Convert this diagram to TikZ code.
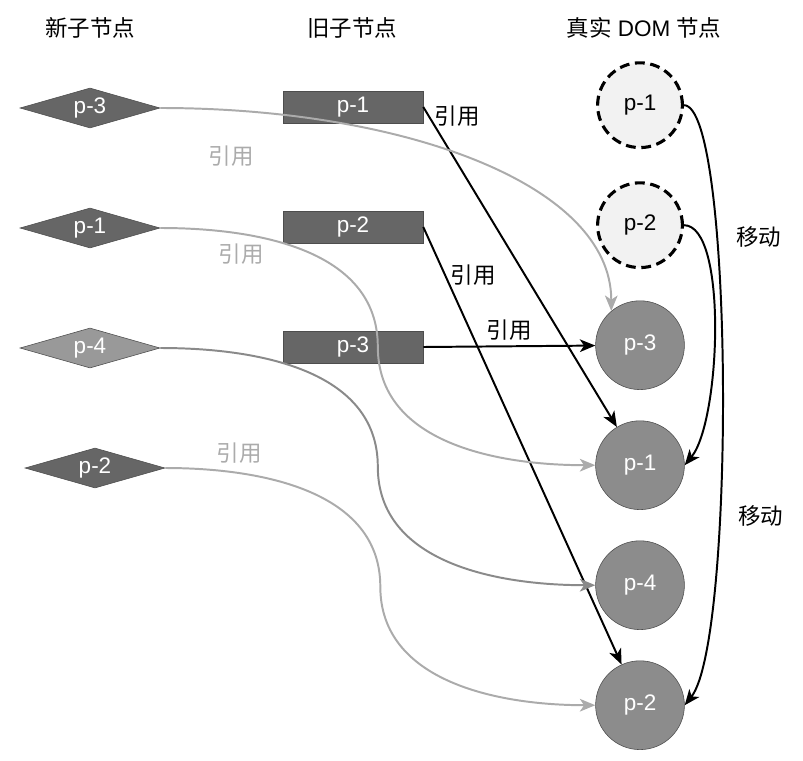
\documentclass[tikz,border=0pt]{standalone}
\usepackage{fontspec}
\setmainfont{Liberation Sans}
\newfontfamily\cjk{Noto Sans CJK SC}
\usepackage{tikz}
\usetikzlibrary{shapes.geometric, arrows.meta, calc}
\definecolor{darkfill}{HTML}{666666}
\definecolor{lightfill}{HTML}{999999}
\definecolor{domfill}{HTML}{8C8C8C}
\definecolor{edgegray}{HTML}{4D4D4D}
\definecolor{refgray}{HTML}{ABABAB}
\definecolor{refdark}{HTML}{8A8A8A}
\tikzstyle{newnode} = [diamond, aspect=3.5, minimum width=3.5cm, minimum height=1cm, inner sep=0pt, draw=edgegray, fill=darkfill, text=white, font=\fontsize{16}{18}\selectfont]
\tikzstyle{oldnode} = [rectangle, minimum width=3.5cm, minimum height=0.8cm, inner sep=0pt, draw=edgegray, fill=darkfill, text=white, font=\fontsize{16}{18}\selectfont]
\tikzstyle{domnode} = [circle, minimum size=2.22cm, inner sep=0pt, draw=edgegray, fill=domfill, text=white, font=\fontsize{16}{18}\selectfont]
\tikzstyle{ghost} = [circle, minimum size=2.12cm, inner sep=0pt, draw=black, line width=2.2pt, dash pattern=on 7pt off 4pt, fill=black!5, font=\fontsize{16}{18}\selectfont]
\tikzstyle{title} = [font=\fontsize{16}{18}\selectfont]
\tikzstyle{reflink} = [->, line width=1.4pt, black]
\tikzstyle{newlink} = [->, line width=1.4pt, refgray]
\tikzstyle{tag} = [font=\cjk\fontsize{16}{18}\selectfont]

\begin{document}
\begin{tikzpicture}[node distance=3cm, >={Stealth[length=11pt,width=9pt,inset=3pt]}]
        \useasboundingbox (0,0) rectangle (20.075,-19);

        \node[title] (newhead) at (2.25,-0.7) {\cjk 新子节点};
        \node[title] (oldhead) at (8.8,-0.7) {\cjk 旧子节点};
        \node[title] (domhead) at (16.1,-0.7) {{\cjk 真实} DOM {\cjk 节点}};

        % new children
        \node[newnode] (new3) at (2.25,-2.7) {p-3};
        \node[newnode, below of=new3] (new1) {p-1};
        \node[newnode, below of=new1, fill=lightfill] (new4) {p-4};
        \node[newnode, below of=new4, xshift=0.125cm] (new2) {p-2};

        % old children
        \node[oldnode] (old1) at (8.825,-2.675) {p-1};
        \node[oldnode, below of=old1] (old2) {p-2};
        \node[oldnode, below of=old2] (old3) {p-3};

        % real DOM
        \node[ghost] (ghost1) at (16,-2.63) {p-1};
        \node[ghost, below of=ghost1] (ghost2) {p-2};
        \node[domnode, below of=ghost2] (real3) {p-3};
        \node[domnode, below of=real3] (real1) {p-1};
        \node[domnode, below of=real1] (real4) {p-4};
        \node[domnode, below of=real4] (real2) {p-2};

        \draw [reflink] (old1.east) -- node[tag, pos=0.03, right]{引用} (real1);
        \draw [reflink] (old2.east) -- node[tag, pos=0.11, right]{引用} (real2);
        \draw [reflink] (old3.east) -- node[tag, above]{引用} (real3);

        \draw [newlink] (new3.east) .. controls +(6,0) and +(0,3.2) .. node[tag, text=refgray, pos=0.1, below=0.75cm]{引用} (real3.130);
        \draw [newlink] (new1.east) to[out=0, in=90] node[tag, text=refgray, pos=0.27, below=0.1cm]{引用} ($(new1.east)!0.5!(real1.west)$) to[out=-90, in=180] (real1.west);
        \draw [newlink, refdark] (new4.east) to[out=0, in=90] ($(new4.east)!0.5!(real4.west)$) to[out=-90, in=180] (real4.west);
        \draw [newlink] (new2.east) to[out=0, in=90] node[tag, text=refgray, pos=0.25, above=0.1cm]{引用} ($(new2.east)!0.5!(real2.west)$) to[out=-90, in=180] (real2.west);

        \draw [reflink] (ghost1.east) .. controls +(1.25,0) and +(1.27,1.6) .. node[tag, pos=0.66, right=0.35cm]{移动} (real2.east);
        \draw [reflink] (ghost2.east) .. controls +(1.1,0) and +(0.9,1.1) .. node[tag, pos=0.15, right=0.75cm]{移动} (real1.east);
    \end{tikzpicture}
\end{document}
